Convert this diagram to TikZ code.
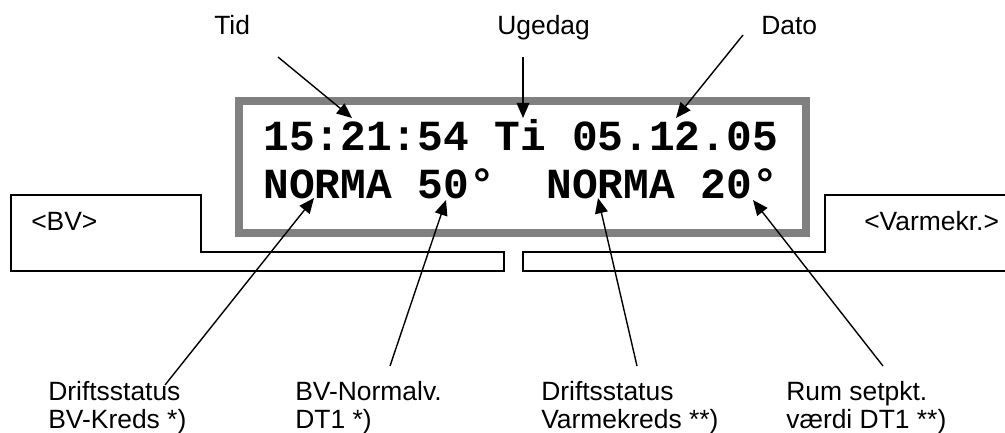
\documentclass[tikz,border=0pt]{standalone}
\usepackage{fontspec}
\setmainfont{Liberation Sans}
\newfontfamily\lcdfont{Liberation Mono}
\usetikzlibrary{arrows.meta}
\definecolor{PanelInk}{HTML}{000000}
\definecolor{PanelFrame}{HTML}{808080}
\tikzset{
  every node/.style={text=PanelInk, inner sep=0pt},
  lcdframe/.style={draw=PanelFrame, line width=2mm, minimum width=141.75mm, minimum height=33mm},
  readout/.style={font=\lcdfont\bfseries\fontsize{30.5pt}{36pt}\selectfont, anchor=base west},
  tablabel/.style={font=\fontsize{18.8pt}{22pt}\selectfont, anchor=base west},
  notelabel/.style={font=\fontsize{18.8pt}{19.8pt}\selectfont, align=left, anchor=north west},
  pointer/.style={-{Triangle[length=3.8mm,width=3.2mm]}, draw=PanelInk, line width=0.35mm},
  bracket/.style={draw=PanelInk, line width=0.3mm},
}

\begin{document}
\begin{tikzpicture}[x=0.25mm,y=-0.25mm]
  \useasboundingbox (0,0) rectangle (1005,432);
  % tabs
  \draw[bracket] (11,195) -- (201,195) -- (201,252) -- (504,252) -- (504,271) -- (11,271) -- cycle;
  \draw[bracket] (1005,195) -- (825,195) -- (825,252) -- (523,252) -- (523,271) -- (1005,271);
  \node[tablabel] (bv) at (31,230) {<BV>};
  \node[tablabel] (varme) at (864,230) {<Varmekr.>};
  % display
  \node[lcdframe] (lcd) at (522.5,167) {};
  \node[readout] (row1) at (263,150) {15:21:54 Ti 05.12.05};
  \node[readout] (row2) at (263,198) {NORMA~50°~~NORMA~20°};
  % top labels
  \node[tablabel] (tid) at (214,34) {Tid};
  \node[tablabel] (ugedag) at (497,34) {Ugedag};
  \node[tablabel] (dato) at (761,34) {Dato};
  % bottom labels
  \node[notelabel] (status-bv) at (48,381) {Driftsstatus\\BV-Kreds *)};
  \node[notelabel] (normal-bv) at (295,381) {BV-Normalv.\\DT1 *)};
  \node[notelabel] (status-vk) at (541,381) {Driftsstatus\\Varmekreds **)};
  \node[notelabel] (setpkt) at (786,381) {Rum setpkt.\\værdi DT1 **)};
  % arrow tips
  \coordinate (tid-tip) at (352,118);
  \coordinate (uge-tip) at (523,118);
  \coordinate (dato-tip) at (676,118);
  \coordinate (sbv-tip) at (314,198);
  \coordinate (nbv-tip) at (446,200);
  \coordinate (svk-tip) at (598,198);
  \coordinate (spk-tip) at (753,200);
  % pointers
  \draw[pointer] ([shift={(64,23)}]tid.base west) -- (tid-tip);
  \draw[pointer] ([shift={(26,23)}]ugedag.base west) -- (uge-tip);
  \draw[pointer] ([shift={(-18,1)}]dato.base west) -- (dato-tip);
  \draw[pointer] ([shift={(117,4)}]status-bv.north west) -- (sbv-tip);
  \draw[pointer] ([shift={(95,-15)}]normal-bv.north west) -- (nbv-tip);
  \draw[pointer] ([shift={(96,-15)}]status-vk.north west) -- (svk-tip);
  \draw[pointer] ([shift={(97,-15)}]setpkt.north west) -- (spk-tip);
\end{tikzpicture}
\end{document}
